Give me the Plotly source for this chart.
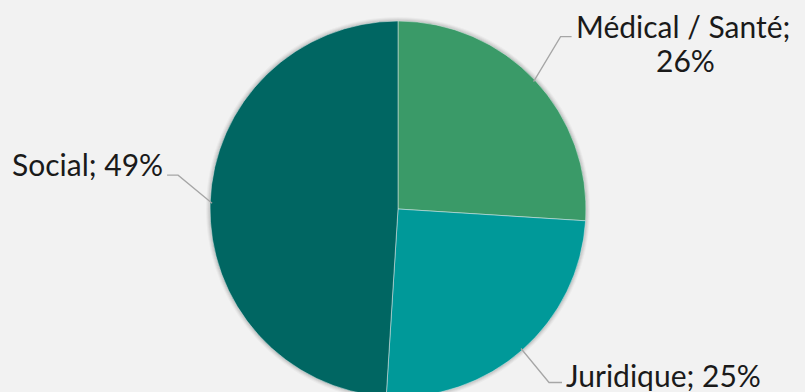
import math
import plotly.graph_objects as go

# Data
categories = ["Médical / Santé", "Juridique", "Social"]
values = [26, 25, 49]
label_lines = [["Médical / Santé;", "26%"], ["Juridique; 25%"], ["Social; 49%"]]
colors = ["#3a9a68", "#009999", "#006662"]

W, H = 805, 397
TOP = 21  # top gap in px
radius = (H - TOP) / 2
cx, cy = 398, TOP + radius

# leader line offsets (px): (dx_elbow, dy_elbow, horizontal length, anchor, text dy)
leader = [
    (27, -45, 11, "left", -11),
    (28, 34, 13, "left", -8),
    (-34, -28, -11, "right", -11),
]
LINE_GAP = 34
BOX_H = 32
FONT = dict(family="Lato, 'DejaVu Sans', sans-serif", size=30, color="#1a1a1a")

def px2paper(x, y):
    return x / W, 1 - y / H

fig = go.Figure()
fig.add_trace(go.Pie(
    labels=categories, values=values, sort=False, direction="clockwise",
    rotation=0, marker=dict(colors=colors, line=dict(color="#e8efee", width=0.5)),
    textinfo="none", hoverinfo="label+percent", showlegend=False,
    domain=dict(x=[(cx - radius) / W, (cx + radius) / W], y=[0, 1 - TOP / H]),
))

shapes, annotations = [], []
# soft shadow behind the pie
for k, a in [(4, 0.03), (3, 0.04), (2, 0.05), (1, 0.06)]:
    x0, y0 = px2paper(cx - radius - k, cy - radius - k)
    x1, y1 = px2paper(cx + radius + k, cy + radius + k)
    shapes.append(dict(type="circle", xref="paper", yref="paper", layer="below",
                       x0=x0, y0=y1, x1=x1, y1=y0, line=dict(width=0),
                       fillcolor=f"rgba(0,0,0,{a})"))

total = sum(values)
cum = 0
for v, lines, (dx, dy, hl, anchor, tdy) in zip(values, label_lines, leader):
    mid = (cum + v / 2) / total * 2 * math.pi
    cum += v
    ex = cx + (radius - 2) * math.sin(mid)
    ey = cy - (radius - 2) * math.cos(mid)
    bx, by = ex + dx, ey + dy
    hx = bx + hl
    p0, p1, p2 = px2paper(ex, ey), px2paper(bx, by), px2paper(hx, by)
    shapes.append(dict(type="path", xref="paper", yref="paper",
                       path=f"M {p0[0]},{p0[1]} L {p1[0]},{p1[1]} L {p2[0]},{p2[1]}",
                       line=dict(color="#a6a6a6", width=1.3)))
    annotations.append(dict(
        x=p2[0], y=1 - (by + tdy) / H, xref="paper", yref="paper", text=lines[0],
        showarrow=False, xanchor=anchor, yanchor="middle", height=BOX_H, borderpad=0,
        xshift=3 if anchor == "left" else -3, font=FONT))
    # following lines centred beneath the first one
    for i, ln in enumerate(lines[1:], start=1):
        annotations.append(dict(
            x=(hx + 3 + 0.5 * 222) / W, y=1 - (by + tdy + i * LINE_GAP) / H,
            xref="paper", yref="paper", text=ln, showarrow=False, height=BOX_H,
            borderpad=0, xanchor="center", yanchor="middle", font=FONT))

fig.update_layout(
    width=W, height=H, margin=dict(l=0, r=0, t=0, b=0),
    paper_bgcolor="#f2f2f2", plot_bgcolor="#f2f2f2",
    shapes=shapes, annotations=annotations,
)
fig.write_html(
    "out.html", config={"displayModeBar": False},
    post_script="document.body.style.margin='0';document.body.style.overflow='hidden';"
                "document.documentElement.style.overflow='hidden';")
